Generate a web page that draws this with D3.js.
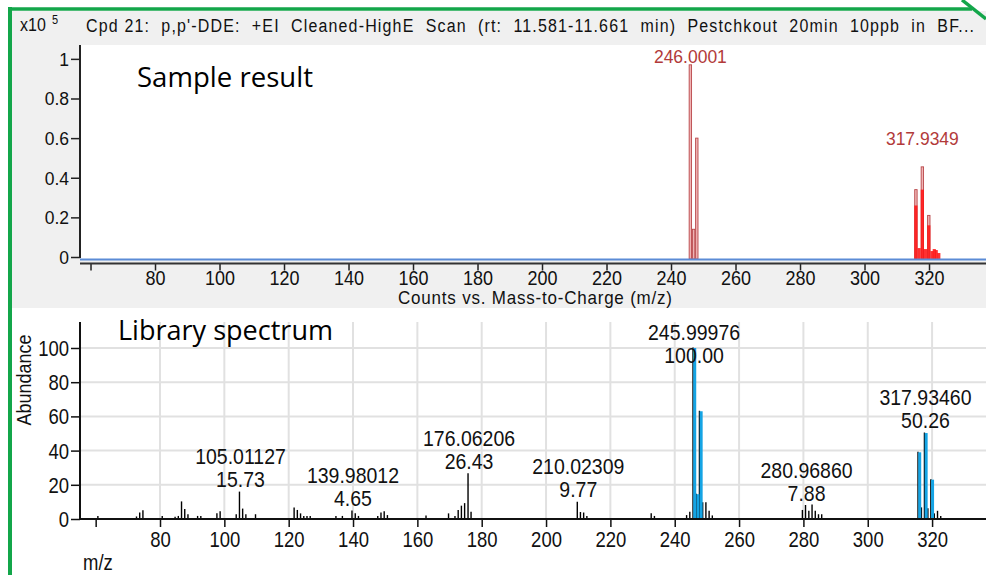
<!DOCTYPE html>
<html>
<head>
<meta charset="utf-8">
<script src="https://cdn.jsdelivr.net/npm/d3@7"></script>
<style>
  html, body { margin: 0; padding: 0; background: #fff; }
  svg { display: block; }
</style>
</head>
<body>
<svg id="chart" width="986" height="575"></svg>
<script>
// ---- Sample result: centroid peaks (counts x10^5) ----
const sampleMz    = [246.0001, 247.0030, 247.9972, 315.9378, 317.9349, 319.9320];
const sampleAbund = [0.97, 0.14, 0.60, 0.34, 0.455, 0.21];

// ---- Sample result: profile signal around the molecular-ion cluster ----
const profileMz    = [315.9, 316.9, 317.9, 318.9, 319.9, 320.9, 321.6, 322.2, 323.0];
const profileAbund = [0.26, 0.045, 0.34, 0.04, 0.16, 0.03, 0.04, 0.035, 0.02];

// Labelled sample peaks
const sampleLabelMz = [246.0001, 317.9349];

// ---- Library spectrum (relative abundance, %) ----
const libMz = [61, 73, 74, 75, 81, 85, 86, 87, 88, 89, 92, 93, 98, 99,
  104, 105.01127, 106, 107, 110, 122, 123, 124, 125, 126, 127, 135, 137,
  139.98012, 141, 142, 148, 149, 150, 151, 163, 170, 172, 173, 174, 175,
  176.06206, 177, 210.02309, 211, 212, 213, 233, 234, 244, 245,
  245.99976, 247.0031, 247.99680, 249, 250, 251, 252,
  280, 280.96860, 282, 283, 284, 285, 286,
  315.93755, 317, 317.93460, 319, 319.93165, 321, 322, 323];
const libAbund = [1.5, 1.2, 3.5, 4.8, 1.5, 1.0, 1.5, 10, 5.5, 2.5, 1.5, 1.5, 3.0, 4.2,
  2.5, 15.73, 5.8, 2.5, 2.5, 6.5, 5.0, 3.0, 1.5, 1.5, 1.5, 1.5, 1.5,
  4.65, 3.0, 1.5, 1.5, 3.5, 4.2, 2.0, 1.8, 3.0, 1.5, 5.0, 7.5, 9.0,
  26.43, 4.0, 9.77, 3.8, 3.5, 1.5, 3.0, 1.5, 2.0, 4.0,
  100.00, 14.5, 63.0, 9.5, 9.5, 4.5, 1.8,
  5.0, 7.88, 4.5, 8.2, 4.5, 2.5, 2.5,
  39.0, 6.5, 50.26, 6.0, 23.0, 3.0, 4.5, 1.5];

// Library peaks matched in the sample
const matchedMz    = [245.99976, 247.0031, 247.99680, 315.93755, 317.93460, 319.93165];
const matchedAbund = [100.00, 14.5, 63.0, 39.0, 50.26, 23.0];

// Labelled library peaks
const libLabelMz = [105.01127, 139.98012, 176.06206, 210.02309, 245.99976, 280.96860, 317.93460];

// Axis ticks
const mzTicks = [60, 80, 100, 120, 140, 160, 180, 200, 220, 240, 260, 280, 300, 320];
const sampleYTicks = [0, 0.2, 0.4, 0.6, 0.8, 1];
const libYTicks = [0, 20, 40, 60, 80, 100];

const W = 986, H = 575;
const FONT = '"Liberation Sans", Arial, sans-serif';
const svg = d3.select("#chart");

// Instrument-style text: slightly tall glyphs via a vertical stretch
function msText(parent, x, y, str, size, anchor, stretch, color) {
  return parent.append("text")
    .attr("transform", `translate(${x},${y}) scale(1,${stretch})`)
    .attr("font-family", FONT)
    .attr("font-size", size)
    .attr("text-anchor", anchor || "start")
    .attr("fill", color || "#000")
    .text(str);
}

// ---------------- Backgrounds ----------------
svg.append("rect").attr("x", 12).attr("y", 11).attr("width", W - 12).attr("height", 297).attr("fill", "#f0f0f0");
svg.append("rect").attr("x", 81).attr("y", 45).attr("width", W - 81).attr("height", 214).attr("fill", "#fff");

// ---------------- Scales ----------------
const xTop = d3.scaleLinear().domain([56.74, 337.67]).range([80, W]);
const yTop = d3.scaleLinear().domain([0, 1.07]).range([257, 45]);
const xLib = d3.scaleLinear().domain([55.13, 336.76]).range([80, W]);
const yLib = d3.scaleLinear().domain([0, 115.2]).range([519, 322]);

// ---------------- Top panel: sample result ----------------
const samplePanel = svg.append("g");

// Title line
msText(samplePanel, 20, 31, "x10", 16, "start", 1.1, "#111");
msText(samplePanel, 52, 24, "5", 11, "start", 1.1, "#111");
msText(samplePanel, 86, 32, "Cpd 21:  p,p'-DDE:  +EI  Cleaned-HighE  Scan  (rt:  11.581-11.661  min)  Pestchkout  20min  10ppb  in  BF...", 16, "start", 1.1, "#111")
  .style("white-space", "pre")
  .attr("textLength", 888)
  .attr("lengthAdjust", "spacing");

// Peak bars: centroids (pale with dark-red edges), profile (bright red)
samplePanel.append("g").selectAll("rect")
  .data(sampleMz.map((m, i) => ({ m, v: sampleAbund[i] })))
  .join("rect")
  .attr("x", d => xTop(d.m) - 1.2)
  .attr("width", 2.4)
  .attr("y", d => yTop(d.v))
  .attr("height", d => yTop(0) - yTop(d.v) + 2)
  .attr("fill", "#efb4b4")
  .attr("stroke", "#b9474a")
  .attr("stroke-width", 0.9);

samplePanel.append("g").selectAll("rect")
  .data(profileMz.map((m, i) => ({ m, v: profileAbund[i] })))
  .join("rect")
  .attr("x", d => xTop(d.m) - 1.5)
  .attr("width", 3.2)
  .attr("y", d => yTop(d.v))
  .attr("height", d => yTop(0) - yTop(d.v) + 2)
  .attr("fill", "#ff1414")
  .attr("opacity", 0.88);

// Peak labels
sampleLabelMz.forEach(m => {
  const v = sampleAbund[sampleMz.indexOf(m)];
  const yb = Math.max(yTop(v) - 22, 63);
  msText(samplePanel, xTop(m), yb, m.toFixed(4), 17.5, "middle", 1.1, "#b23a3a");
});

// Baseline of the trace
samplePanel.append("line").attr("x1", 80).attr("x2", W).attr("y1", 259.5).attr("y2", 259.5)
  .attr("stroke", "#5b8bd6").attr("stroke-width", 2);

// Y axis
const yAxTop = samplePanel.append("g").attr("transform", "translate(80,0)")
  .call(d3.axisLeft(yTop).tickValues(sampleYTicks).tickSize(9).tickFormat(d => d === 0 ? "0" : d === 1 ? "1" : d3.format(".1f")(d)));
yAxTop.select(".domain").remove();
yAxTop.selectAll(".tick line").attr("stroke", "#222").attr("stroke-width", 1.5);
yAxTop.selectAll(".tick text").each(function () {
  d3.select(this).attr("x", null).attr("dy", null)
    .attr("transform", "translate(-11,6.5) scale(1,1.1)")
    .attr("font-family", FONT).attr("font-size", 17.5).attr("fill", "#111");
});
samplePanel.append("line").attr("x1", 80).attr("x2", 80).attr("y1", 45).attr("y2", 258)
  .attr("stroke", "#222").attr("stroke-width", 2);

// X axis
const xAxTop = samplePanel.append("g").attr("transform", "translate(0,263.5)")
  .call(d3.axisBottom(xTop).tickValues(mzTicks).tickSize(7).tickFormat(d => d === 60 ? "" : d));
xAxTop.select(".domain").remove();
xAxTop.selectAll(".tick line").attr("stroke", "#222").attr("stroke-width", 1.5);
xAxTop.selectAll(".tick text").each(function () {
  d3.select(this).attr("y", null).attr("dy", null)
    .attr("transform", "translate(0,21.5) scale(1,1.1)")
    .attr("font-family", FONT).attr("font-size", 18).attr("fill", "#111");
});
samplePanel.append("line").attr("x1", 80).attr("x2", W).attr("y1", 263.5).attr("y2", 263.5)
  .attr("stroke", "#333").attr("stroke-width", 2);

msText(samplePanel, 535, 304, "Counts vs. Mass-to-Charge (m/z)", 17, "middle", 1.08, "#111")
  .attr("textLength", 274).attr("lengthAdjust", "spacing");

samplePanel.append("text").attr("x", 137).attr("y", 87)
  .attr("font-family", '"Open Sans", "Noto Sans", sans-serif').attr("font-size", 27)
  .attr("textLength", 176).attr("lengthAdjust", "spacingAndGlyphs")
  .attr("fill", "#000").text("Sample result");

// ---------------- Bottom panel: library spectrum ----------------
const lib = svg.append("g");

// Grid
lib.append("g").selectAll("line")
  .data(mzTicks.filter(d => d !== 60))
  .join("line")
  .attr("x1", d => xLib(d)).attr("x2", d => xLib(d))
  .attr("y1", 322).attr("y2", 519)
  .attr("stroke", "#e1e1e1").attr("stroke-width", 2);
lib.append("g").selectAll("line")
  .data(libYTicks.filter(d => d > 0))
  .join("line")
  .attr("x1", 80).attr("x2", W)
  .attr("y1", d => yLib(d)).attr("y2", d => yLib(d))
  .attr("stroke", "#e1e1e1").attr("stroke-width", 2);

// Library peaks (black sticks)
lib.append("g").selectAll("line")
  .data(libMz.map((m, i) => ({ m, v: libAbund[i] })))
  .join("line")
  .attr("x1", d => xLib(d.m) - 1).attr("x2", d => xLib(d.m) - 1)
  .attr("y1", yLib(0)).attr("y2", d => yLib(d.v) - 0.5)
  .attr("stroke", "#000").attr("stroke-width", 1.4);

// Matched peaks (blue)
lib.append("g").selectAll("rect")
  .data(matchedMz.map((m, i) => ({ m, v: matchedAbund[i] })))
  .join("rect")
  .attr("x", d => xLib(d.m) - 0.8)
  .attr("width", 3)
  .attr("y", d => yLib(d.v))
  .attr("height", d => yLib(0) - yLib(d.v))
  .attr("fill", "#15a4e4");

// Axes
const yAxLib = lib.append("g").attr("transform", "translate(80,0)")
  .call(d3.axisLeft(yLib).tickValues(libYTicks).tickSize(9));
yAxLib.select(".domain").remove();
yAxLib.selectAll(".tick line").attr("stroke", "#111").attr("stroke-width", 1.5);
yAxLib.selectAll(".tick text").each(function () {
  d3.select(this).attr("x", null).attr("dy", null)
    .attr("transform", "translate(-11,7.5) scale(1,1.16)")
    .attr("font-family", FONT).attr("font-size", 18.5).attr("fill", "#111");
});
lib.append("line").attr("x1", 80).attr("x2", 80).attr("y1", 322).attr("y2", 520)
  .attr("stroke", "#111").attr("stroke-width", 2);

const xAxLib = lib.append("g").attr("transform", "translate(0,519)")
  .call(d3.axisBottom(xLib).tickValues(mzTicks).tickSize(8).tickFormat(d => d === 60 ? "" : d));
xAxLib.select(".domain").remove();
xAxLib.selectAll(".tick line").attr("stroke", "#111").attr("stroke-width", 1.5);
xAxLib.selectAll(".tick text").each(function () {
  d3.select(this).attr("y", null).attr("dy", null)
    .attr("transform", "translate(0,28) scale(1,1.16)")
    .attr("font-family", FONT).attr("font-size", 18.5).attr("fill", "#111");
});
lib.append("line").attr("x1", 80).attr("x2", W).attr("y1", 519).attr("y2", 519)
  .attr("stroke", "#111").attr("stroke-width", 2);

// Peak annotations: m/z on the first line, abundance on the second
libLabelMz.forEach(m => {
  const v = libAbund[libMz.indexOf(m)];
  const y2 = Math.max(yLib(v) - 5, 363);
  msText(lib, xLib(m), y2 - 23, m.toFixed(5), 19.5, "middle", 1.14, "#111");
  msText(lib, xLib(m), y2, v.toFixed(2), 19.5, "middle", 1.14, "#111");
});

// Axis titles
lib.append("text")
  .attr("transform", "translate(31,380) rotate(-90) scale(1,1.15)")
  .attr("font-family", FONT).attr("font-size", 18).attr("text-anchor", "middle")
  .attr("fill", "#111").text("Abundance");
msText(lib, 83, 570, "m/z", 18.5, "start", 1.15, "#111");

lib.append("text").attr("x", 118).attr("y", 340)
  .attr("font-family", '"Open Sans", "Noto Sans", sans-serif').attr("font-size", 27)
  .attr("textLength", 215).attr("lengthAdjust", "spacingAndGlyphs")
  .attr("fill", "#000").text("Library spectrum");

// ---------------- Frame ----------------
const GREEN = "#13a64a";
svg.append("line").attr("x1", 10).attr("x2", 10).attr("y1", 7).attr("y2", H)
  .attr("stroke", GREEN).attr("stroke-width", 4);
svg.append("line").attr("x1", 8).attr("x2", 972).attr("y1", 9).attr("y2", 9)
  .attr("stroke", GREEN).attr("stroke-width", 3.5);
svg.append("line").attr("x1", 962).attr("x2", 986).attr("y1", 0).attr("y2", 19)
  .attr("stroke", GREEN).attr("stroke-width", 3.5);
</script>
</body>
</html>
